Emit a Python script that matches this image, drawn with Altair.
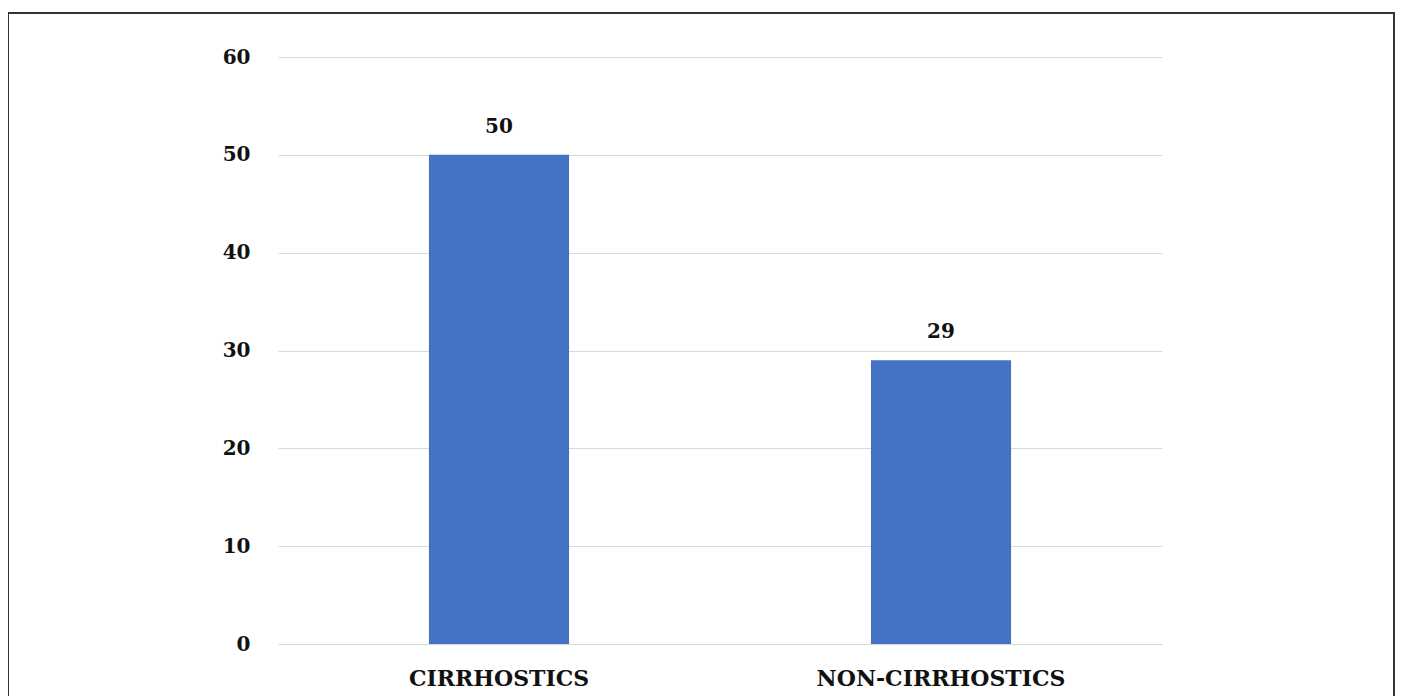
import altair as alt
import pandas as pd

categories = ["CIRRHOSTICS", "NON-CIRRHOSTICS"]
values = [50, 29]
y_ticks = [0, 10, 20, 30, 40, 50, 60]

df = pd.DataFrame({"group": categories, "count": values})

FONT = "DejaVu Serif"

base = alt.Chart(df)

bars = base.mark_bar(color="#4472C4").encode(
    x=alt.X("group:N", sort=categories, title=None,
            scale=alt.Scale(paddingInner=0.683, paddingOuter=0.3415),
            axis=alt.Axis(labelAngle=0, labelFont=FONT, labelFontSize=22,
                          labelFontWeight="bold", labelColor="#111",
                          labelPadding=24, labelLimit=0, ticks=False, domain=True,
                          domainColor="#d9d9d9", domainWidth=1, grid=False)),
    y=alt.Y("count:Q", title=None,
            scale=alt.Scale(domain=[0, 60]),
            axis=alt.Axis(values=y_ticks, labelFont=FONT,
                          labelFontSize=20, labelFontWeight="bold", labelColor="#111",
                          labelPadding=28, ticks=False, domain=False,
                          grid=True, gridColor="#d9d9d9", gridWidth=1)),
)

text = base.mark_text(font=FONT, fontSize=20, fontWeight="bold", color="#111",
                      baseline="alphabetic", dy=-22).encode(
    x=alt.X("group:N", sort=categories),
    y=alt.Y("count:Q"),
    text=alt.Text("count:Q"),
)

frame = alt.Chart(pd.DataFrame({"a": [1]})).mark_rect(
    fill=None, stroke="#333333", strokeWidth=2, clip=False
).encode(
    x=alt.value(-270), x2=alt.value(1116),
    y=alt.value(-44), y2=alt.value(700),
)

chart = alt.layer(bars, text, frame).properties(
    width=884, height=587,
    padding={"left": 270, "top": 49, "right": 234, "bottom": 52},
    autosize=alt.AutoSizeParams(type="none"),
).configure(background="white").configure_view(strokeWidth=0, stroke="transparent")

chart.save("out.html", embed_options={"renderer": "svg", "actions": False})
